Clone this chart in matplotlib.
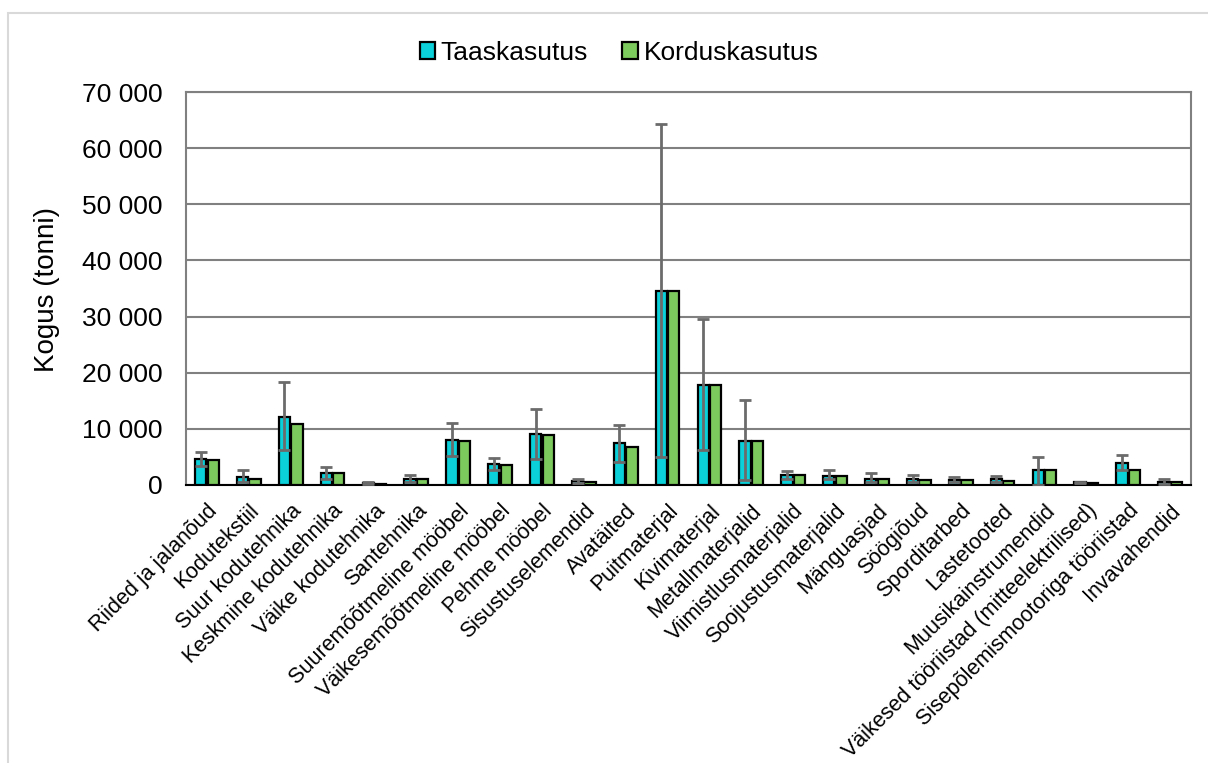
import numpy as np
import matplotlib
matplotlib.use("Agg")
import matplotlib.pyplot as plt
from matplotlib.patches import Rectangle
from matplotlib.ticker import FuncFormatter

plt.rcParams['font.family'] = ['Liberation Sans', 'DejaVu Sans']

kategooriad = ['Riided ja jalanõud', 'Kodutekstiil', 'Suur kodutehnika',
               'Keskmine kodutehnika', 'Väike kodutehnika', 'Santehnika',
               'Suuremõõtmeline mööbel', 'Väikesemõõtmeline mööbel', 'Pehme mööbel',
               'Sisustuselemendid', 'Avatäited', 'Puitmaterjal', 'Kivimaterjal',
               'Metallmaterjalid', 'Viimistlusmaterjalid', 'Soojustusmaterjalid',
               'Mänguasjad', 'Söögiõud', 'Sporditarbed', 'Lastetooted',
               'Muusikainstrumendid', 'Väikesed tööriistad (mitteelektrilised)',
               'Sisepõlemismootoriga tööriistad', 'Invavahendid']

taaskasutus = [4600, 1400, 12200, 2100, 350, 1050, 8050, 3700, 9050, 700, 7400, 34600,
               17900, 7900, 1700, 1650, 1100, 1000, 900, 1050, 2650, 450, 4000, 530]
korduskasutus = [4450, 1150, 10800, 2050, 250, 1100, 7900, 3600, 8950, 550, 6700, 34600,
                 17900, 7900, 1700, 1650, 1050, 950, 900, 800, 2650, 300, 2700, 450]
# vearibade alumine ja ülemine piir (ainult taaskasutus)
viga_alla = [3450, 500, 6300, 1100, 200, 600, 5100, 2700, 4600, 400, 4100, 4900,
             6300, 900, 1050, 1100, 500, 550, 550, 550, 0, 300, 2600, 200]
viga_yles = [5800, 2600, 18300, 3200, 450, 1850, 11000, 4800, 13600, 1000, 10700, 64300,
             29600, 15100, 2550, 2600, 2150, 1700, 1450, 1600, 5000, 550, 5400, 1050]

sinine = '#0BD0DA'
roheline = '#7CC95E'
hall = '#6B6B6B'

fig = plt.figure(figsize=(12.08, 7.63), dpi=100)
ax = fig.add_axes([186/1208, 1-485/763, (1191-186)/1208, (485-92)/763])

x = np.arange(len(kategooriad))
w = 0.27
t = np.array(taaskasutus)
yerr = [t - np.array(viga_alla), np.array(viga_yles) - t]

ax.bar(x - 0.15, taaskasutus, w, color=sinine, edgecolor='black', linewidth=1.6,
       label='Taaskasutus', zorder=3)
ax.bar(x + 0.15, korduskasutus, w, color=roheline, edgecolor='black', linewidth=1.6,
       label='Korduskasutus', zorder=3)
ax.errorbar(x - 0.15, taaskasutus, yerr=yerr, fmt='none', ecolor=hall, elinewidth=2,
            capsize=4, capthick=2, zorder=4)

ax.set_xlim(-0.5, len(kategooriad) - 0.5)
ax.set_ylim(0, 70000)
ax.set_yticks(np.arange(0, 70001, 10000))
ax.yaxis.set_major_formatter(FuncFormatter(lambda v, p: f'{int(v):,}'.replace(',', ' ')))
ax.grid(axis='y', color='#808080', linewidth=1.5, zorder=0)
ax.set_axisbelow(True)

for s in ['left', 'right', 'top']:
    ax.spines[s].set_color('#808080')
    ax.spines[s].set_linewidth(1.5)
ax.spines['bottom'].set_color('black')
ax.spines['bottom'].set_linewidth(1.5)

ax.tick_params(axis='y', length=0, pad=17, labelsize=19)
ax.tick_params(axis='x', length=0, pad=11)
ax.set_xticks(x)
ax.set_xticklabels(kategooriad, rotation=45, ha='right', va='top',
                   rotation_mode='anchor', fontsize=15.5)

fig.text(47/1208, 1-289/763, 'Kogus (tonni)', rotation=90, ha='center', va='center',
         fontsize=20)

fig.legend(loc='center', bbox_to_anchor=(619/1208, 1-53/763), ncol=2, frameon=False,
           fontsize=19, handlelength=0.6, handleheight=0.6, handletextpad=0.2,
           columnspacing=1.3)

fig.patches.append(Rectangle((8/1208, -0.1), 1.2, 1-13/763+0.1, transform=fig.transFigure,
                             fill=False, edgecolor='#D9D9D9', linewidth=1.5))

fig.savefig('out.png', dpi=100)
